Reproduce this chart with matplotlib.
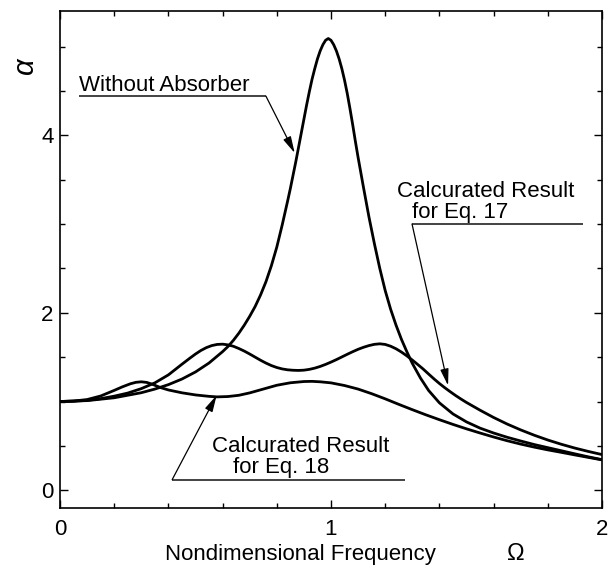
import matplotlib
matplotlib.use("Agg")
import matplotlib.pyplot as plt
from matplotlib.ticker import MultipleLocator

plt.rcParams['font.family'] = ['Liberation Sans', 'DejaVu Sans']

# ---- data ----
omega_w = [0.00, 0.10, 0.20, 0.30, 0.35, 0.40, 0.45, 0.50, 0.55, 0.60, 0.62, 0.64,
           0.66, 0.68, 0.70, 0.72, 0.74, 0.76, 0.78, 0.80, 0.82, 0.84, 0.85, 0.86,
           0.87, 0.88, 0.89, 0.90, 0.91, 0.92, 0.93, 0.94, 0.95, 0.96, 0.97, 0.98,
           0.99, 1.00, 1.01, 1.02, 1.03, 1.04, 1.05, 1.06, 1.07, 1.08, 1.09, 1.10,
           1.12, 1.14, 1.16, 1.18, 1.20, 1.22, 1.24, 1.26, 1.28, 1.30, 1.33, 1.36,
           1.40, 1.45, 1.50, 1.55, 1.60, 1.65, 1.70, 1.75, 1.80, 1.85, 1.90, 1.95, 2.00]
alpha_w = [1.000, 1.010, 1.042, 1.099, 1.140, 1.190, 1.253, 1.333, 1.434, 1.562, 1.620, 1.690,
           1.770, 1.860, 1.960, 2.070, 2.200, 2.350, 2.530, 2.740, 2.990, 3.260, 3.400, 3.550,
           3.700, 3.860, 4.020, 4.180, 4.340, 4.490, 4.630, 4.750, 4.860, 4.950, 5.020, 5.070,
           5.090, 5.070, 5.020, 4.950, 4.860, 4.750, 4.620, 4.470, 4.300, 4.120, 3.930, 3.750,
           3.410, 3.080, 2.780, 2.500, 2.250, 2.040, 1.860, 1.700, 1.560, 1.430, 1.265, 1.125,
           0.985, 0.860, 0.770, 0.700, 0.645, 0.597, 0.555, 0.515, 0.480, 0.445, 0.410, 0.376, 0.345]

omega_17 = [0.00, 0.05, 0.10, 0.15, 0.20, 0.25, 0.30, 0.35, 0.40, 0.45, 0.48, 0.50,
            0.52, 0.54, 0.56, 0.58, 0.60, 0.62, 0.64, 0.66, 0.68, 0.70, 0.72, 0.74,
            0.76, 0.78, 0.80, 0.82, 0.84, 0.86, 0.88, 0.90, 0.92, 0.94, 0.96, 0.98,
            1.00, 1.02, 1.04, 1.06, 1.08, 1.10, 1.12, 1.14, 1.16, 1.18, 1.20, 1.22,
            1.24, 1.26, 1.28, 1.30, 1.32, 1.34, 1.36, 1.38, 1.40, 1.42, 1.44, 1.46,
            1.48, 1.50, 1.55, 1.60, 1.65, 1.70, 1.75, 1.80, 1.85, 1.90, 1.95, 2.00]
alpha_17 = [1.000, 1.003, 1.013, 1.032, 1.060, 1.095, 1.145, 1.210, 1.300, 1.420, 1.490, 1.535,
            1.575, 1.607, 1.630, 1.643, 1.646, 1.638, 1.622, 1.597, 1.568, 1.535, 1.500, 1.465,
            1.433, 1.405, 1.383, 1.367, 1.357, 1.352, 1.350, 1.353, 1.362, 1.376, 1.395, 1.418,
            1.444, 1.472, 1.502, 1.532, 1.561, 1.588, 1.611, 1.630, 1.644, 1.650, 1.643, 1.623,
            1.594, 1.557, 1.514, 1.467, 1.417, 1.366, 1.310, 1.255, 1.203, 1.155, 1.110, 1.067,
            1.027, 0.989, 0.902, 0.820, 0.746, 0.680, 0.620, 0.566, 0.518, 0.475, 0.437, 0.402]

omega_18 = [0.00, 0.05, 0.10, 0.15, 0.20, 0.23, 0.26, 0.28, 0.30, 0.32, 0.34, 0.37,
            0.40, 0.45, 0.50, 0.55, 0.58, 0.62, 0.66, 0.70, 0.75, 0.80, 0.85, 0.90,
            0.93, 0.96, 1.00, 1.05, 1.10, 1.15, 1.20, 1.25, 1.30, 1.35, 1.40, 1.45,
            1.50, 1.55, 1.60, 1.65, 1.70, 1.75, 1.80, 1.85, 1.90, 1.95, 2.00]
alpha_18 = [1.000, 1.005, 1.022, 1.062, 1.125, 1.165, 1.200, 1.216, 1.222, 1.215, 1.195, 1.158,
            1.130, 1.098, 1.074, 1.058, 1.052, 1.056, 1.070, 1.097, 1.140, 1.183, 1.211, 1.225,
            1.227, 1.222, 1.210, 1.180, 1.140, 1.088, 1.030, 0.968, 0.908, 0.850, 0.795, 0.742,
            0.692, 0.645, 0.600, 0.558, 0.520, 0.486, 0.455, 0.427, 0.398, 0.370, 0.342]

x_major = [0, 1, 2]
y_major = [0, 2, 4]

fig = plt.figure(figsize=(6.10, 5.69), dpi=100)
ax = fig.add_axes([60/610, 1-508/569, 542/610, 497/569])

for om, al in [(omega_w, alpha_w), (omega_17, alpha_17), (omega_18, alpha_18)]:
    ax.plot(om, al, color='black', lw=2.0, solid_joinstyle='round', solid_capstyle='round')

ax.set_xlim(0, 2)
ax.set_ylim(-0.2, 5.4)
ax.set_xticks(x_major)
ax.set_yticks(y_major)
ax.set_xticklabels([str(v) for v in x_major])
ax.set_yticklabels([str(v) for v in y_major])
ax.xaxis.set_minor_locator(MultipleLocator(0.2))
ax.yaxis.set_minor_locator(MultipleLocator(0.5))
ax.tick_params(which='both', direction='in', top=True, right=True, width=1.0, labelsize=16)
ax.tick_params(which='major', length=6)
ax.tick_params(which='minor', length=3.8)
ax.tick_params(axis='x', which='major', pad=8)
ax.tick_params(axis='y', which='major', pad=4.5)
for s in ax.spines.values():
    s.set_linewidth(1.2)

# annotations
def callout(x0, x1, y, tip):
    ax.plot([x0, x1], [y, y], color='#222222', lw=1.2, solid_capstyle='butt')
    ax.annotate('', xy=tip, xytext=(x1 if tip[0] > x1 else x0, y),
                arrowprops=dict(arrowstyle='-|>,head_length=1.0,head_width=0.25',
                                mutation_scale=10, lw=0.9, color='black',
                                shrinkA=0, shrinkB=0))

callout(0.070, 0.760, 4.44, (0.866, 3.80))
ax.text(0.070, 4.50, 'Without Absorber', fontsize=16, va='baseline', ha='left')

callout(1.299, 1.929, 3.0, (1.432, 1.18))
ax.text(1.242, 3.30, 'Calcurated Result', fontsize=16, va='baseline', ha='left')
ax.text(1.299, 3.07, 'for Eq. 17', fontsize=16, va='baseline', ha='left')

callout(0.414, 1.273, 0.12, (0.578, 1.07))
ax.text(0.560, 0.43, 'Calcurated Result', fontsize=16, va='baseline', ha='left')
ax.text(0.638, 0.195, 'for Eq. 18', fontsize=16, va='baseline', ha='left')

# axis labels
fig.text(165/610, 1-560/569, 'Nondimensional Frequency', fontsize=16, ha='left', va='baseline')
fig.text(516/610, 1-560/569, 'Ω', fontsize=17, ha='center', va='baseline')
fig.text(25/610, 1-66/569, 'α', fontsize=21, rotation=90, ha='center', va='center', style='italic')

fig.savefig('out.png', dpi=100)
